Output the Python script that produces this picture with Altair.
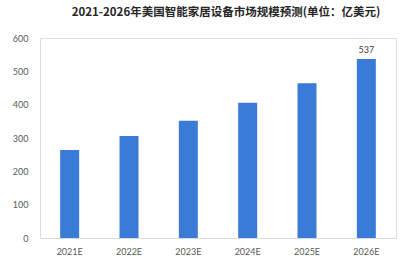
import altair as alt
import pandas as pd

# US smart-home device market size forecast (100 million USD)
years = ["2021E", "2022E", "2023E", "2024E", "2025E", "2026E"]
values = [264, 306, 352, 406, 464, 537]
y_ticks = [0, 100, 200, 300, 400, 500, 600]
labeled = ["2026E"]

df = pd.DataFrame({"year": years, "value": values})
df["label"] = [str(v) if y in labeled else "" for y, v in zip(years, values)]

x_enc = alt.X(
    "year:N",
    sort=years,
    scale=alt.Scale(paddingInner=0.68, paddingOuter=0.34),
    axis=alt.Axis(
        title=None,
        labelAngle=0,
        labelFont="Lato",
        labelFontSize=9,
        labelColor="#595959",
        labelPadding=9,
        ticks=False,
        domainColor="#d9d9d9",
        domainWidth=1,
    ),
)

y_enc = alt.Y(
    "value:Q",
    scale=alt.Scale(domain=[0, 600]),
    axis=alt.Axis(
        title=None,
        values=y_ticks,
        tickCount=7,
        labelFont="Lato",
        labelFontSize=9,
        labelColor="#595959",
        labelPadding=12,
        labelOverlap=False,
        labelBound=False,
        ticks=False,
        domain=False,
        grid=False,
    ),
)

bars = alt.Chart(df).mark_bar(color="#3a7bd7").encode(x=x_enc, y=y_enc)

text = (
    alt.Chart(df)
    .mark_text(dy=-9, font="Lato", fontSize=9, color="#404040")
    .encode(x=x_enc, y=y_enc, text="label:N")
)

chart = (
    alt.layer(bars, text)
    .properties(
        width=356,
        height=200,
        padding={"left": 40, "top": 38, "right": 4, "bottom": 28},
        autosize=alt.AutoSizeParams(type="none"),
        title=alt.TitleParams(
            "2021-2026年美国智能家居设备市场规模预测(单位：亿美元)",
            font="Noto Sans CJK SC",
            fontSize=11.5,
            fontWeight="bold",
            color="#262626",
            anchor="middle",
            dx=8,
            offset=16,
        ),
    )
    .configure_view(strokeWidth=0)
    .configure(background="white")
)

chart.save("out.html", embed_options={"renderer": "svg", "actions": False})
